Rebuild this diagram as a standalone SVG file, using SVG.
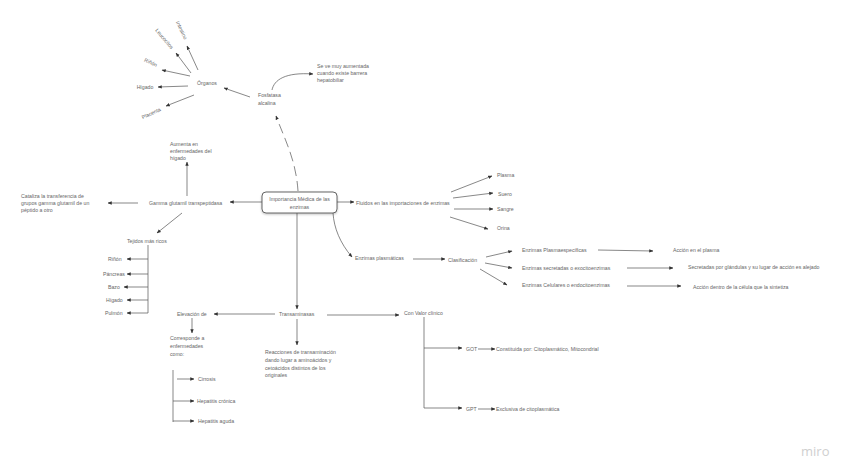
<svg xmlns="http://www.w3.org/2000/svg" width="848" height="476" viewBox="0 0 848 476">
<defs>
<marker id="ah" viewBox="0 0 10 10" refX="9" refY="5" markerWidth="4.2" markerHeight="4.2" orient="auto-start-reverse" markerUnits="userSpaceOnUse">
<path d="M0,1 L10,5 L0,9 z" fill="#333"/>
</marker>
<filter id="sh" x="-20%" y="-20%" width="140%" height="150%">
<feDropShadow dx="0" dy="1" stdDeviation="0.8" flood-color="#000" flood-opacity="0.25"/>
</filter>
</defs>
<style>
text{font-family:"Liberation Sans","Open Sans",sans-serif;font-size:5.2px;fill:#666}
.c{stroke:#555;stroke-width:0.7;fill:none}
.a{marker-end:url(#ah)}
.d{stroke-dasharray:10 5}
.m{text-anchor:middle}
</style>
<rect width="848" height="476" fill="#fff"/>

<g id="connectors">
<path class="c a d" d="M298,191 C296,160 285,140 276,116"/>
<path class="c a" d="M250,97 L224,88"/>
<path class="c a" d="M198,70 L187,46"/>
<path class="c a" d="M191,73 L176,53"/>
<path class="c a" d="M190,76 L162,70"/>
<path class="c a" d="M188,86 L158,87"/>
<path class="c a" d="M194,95 L166,106"/>
<path class="c a" d="M272,90 C274,80 285,72 313,74"/>
<path class="c a" d="M262,202 L230,202"/>
<path class="c a" d="M187,196 L187,162"/>
<path class="c a" d="M138,203 L108,203"/>
<path class="c a" d="M182,213 L157,233"/>
<path class="c" d="M148,245 L148,313"/>
<path class="c a" d="M148,259 L127,259"/>
<path class="c a" d="M148,274 L127,274"/>
<path class="c a" d="M148,287 L124,287"/>
<path class="c a" d="M148,300 L127,300"/>
<path class="c a" d="M148,313 L127,313"/>
<path class="c a" d="M337,202 L354,202"/>
<path class="c a" d="M451,192 L492,176"/>
<path class="c a" d="M453,198 L493,193"/>
<path class="c a" d="M454,209 L493,209"/>
<path class="c a" d="M450,217 L488,229"/>
<path class="c a" d="M333,213 C334,228 340,243 352,257"/>
<path class="c a" d="M413,259 L445,259"/>
<path class="c a" d="M486,257 L512,251"/>
<path class="c a" d="M485,263 L512,268"/>
<path class="c a" d="M480,269 L507,285"/>
<path class="c a" d="M598,250 L653,251"/>
<path class="c a" d="M627,268 L673,268"/>
<path class="c a" d="M627,286 L681,286"/>
<path class="c a" d="M297,213 L297,309"/>
<path class="c a" d="M275,314 L214,314"/>
<path class="c a" d="M192,318 L192,333"/>
<path class="c" d="M173,370 L173,422"/>
<path class="c a" d="M177,379 L194,379"/>
<path class="c a" d="M173,401 L194,401"/>
<path class="c a" d="M173,421 L194,421"/>
<path class="c a" d="M297,319 L297,345"/>
<path class="c a" d="M327,315 L399,315"/>
<path class="c" d="M424,317 L424,408"/>
<path class="c a" d="M424,348 L462,348"/>
<path class="c a" d="M424,408 L462,408"/>
<path class="c a" d="M478,349 L495,349"/>
<path class="c a" d="M478,409 L495,409"/>
</g>

<g id="center">
<rect x="262" y="192" width="75" height="21" rx="4" fill="#fff" stroke="#555" stroke-width="0.9" filter="url(#sh)"/>
<text class="m" x="299.5" y="201">Importancia Médica de las</text>
<text class="m" x="299.5" y="209">enzimas</text>
</g>

<g id="fosfatasa">
<text x="258" y="97">Fosfatasa</text>
<text x="258" y="105">alcalina</text>
</g>
<g id="nota-fosfatasa">
<text x="317" y="68" font-size="4.5">Se ve muy aumentada</text>
<text x="317" y="75" font-size="4.5">cuando existe barrera</text>
<text x="317" y="82" font-size="4.5">hepatobiliar</text>
</g>
<g id="organos"><text class="m" x="207" y="85">Órganos</text></g>
<g id="intestino"><text class="m" transform="translate(180,31) rotate(65)">Intestino</text></g>
<g id="leucocitos"><text class="m" transform="translate(163,40) rotate(50)">Leucocitos</text></g>
<g id="rinon1"><text class="m" transform="translate(150,64) rotate(25)">Riñón</text></g>
<g id="higado1"><text class="m" x="145" y="89">Hígado</text></g>
<g id="placenta"><text class="m" transform="translate(152,115) rotate(-25)">Placenta</text></g>

<g id="ggt"><text x="149" y="205">Gamma glutamil transpeptidasa</text></g>
<g id="aumenta">
<text x="170" y="146">Aumenta en</text>
<text x="170" y="153">enfermedades del</text>
<text x="170" y="160">hígado</text>
</g>
<g id="cataliza">
<text x="21" y="198">Cataliza la transferencia de</text>
<text x="21" y="205">grupos gamma glutamil de un</text>
<text x="21" y="212">péptido a otro</text>
</g>
<g id="tejidos"><text x="127" y="243">Tejidos más ricos</text></g>
<g id="rinon2"><text x="108" y="261">Riñón</text></g>
<g id="pancreas"><text x="103" y="276">Páncreas</text></g>
<g id="bazo"><text x="108" y="289">Bazo</text></g>
<g id="higado2"><text x="106" y="302">Hígado</text></g>
<g id="pulmon"><text x="105" y="315">Pulmón</text></g>

<g id="fluidos"><text x="356" y="205">Fluidos en las importaciones de enzimas</text></g>
<g id="plasma"><text x="497" y="177">Plasma</text></g>
<g id="suero"><text x="498" y="196">Suero</text></g>
<g id="sangre"><text x="497" y="211">Sangre</text></g>
<g id="orina"><text x="497" y="230">Orina</text></g>

<g id="plasmaticas"><text x="355" y="260">Enzimas plasmáticas</text></g>
<g id="clasificacion"><text x="448" y="262">Clasificación</text></g>
<g id="plasmaespecificas"><text x="522" y="252">Enzimas Plasmaespecíficas</text></g>
<g id="secretadas"><text x="522" y="270">Enzimas secretadas o exocitoenzimas</text></g>
<g id="celulares"><text x="522" y="287">Enzimas Celulares o endocitoenzimas</text></g>
<g id="accion-plasma"><text x="673" y="252">Acción en el plasma</text></g>
<g id="secretadas-gl"><text x="688" y="269">Secretadas por glándulas y su lugar de acción es alejado</text></g>
<g id="accion-celula"><text x="693" y="289">Acción dentro de la célula que la sintetiza</text></g>

<g id="transaminasas"><text x="279" y="316">Transaminasas</text></g>
<g id="elevacion"><text x="177" y="316">Elevación de</text></g>
<g id="corresponde">
<text x="170" y="340">Corresponde a</text>
<text x="170" y="348">enfermedades</text>
<text x="170" y="356">como:</text>
</g>
<g id="cirrosis"><text x="198" y="381">Cirrosis</text></g>
<g id="hep-cronica"><text x="197" y="403">Hepatitis crónica</text></g>
<g id="hep-aguda"><text x="198" y="423">Hepatitis aguda</text></g>
<g id="reacciones">
<text x="265" y="354">Reacciones de transaminación</text>
<text x="265" y="362">dando lugar a aminoácidos y</text>
<text x="265" y="370">cetoácidos distintos de los</text>
<text x="265" y="377">originales</text>
</g>
<g id="valor-clinico"><text x="404" y="315">Con Valor clínico</text></g>
<g id="got"><text x="466" y="351">GOT</text></g>
<g id="got-desc"><text x="496" y="351">Constituida por: Citoplasmático, Mitocondrial</text></g>
<g id="gpt"><text x="466" y="411">GPT</text></g>
<g id="gpt-desc"><text x="496" y="411">Exclusiva de citoplasmática</text></g>

<text x="801" y="456" style="font-size:13px;fill:#cfcfcf;font-family:'Open Sans','Liberation Sans',sans-serif">miro</text>
</svg>
